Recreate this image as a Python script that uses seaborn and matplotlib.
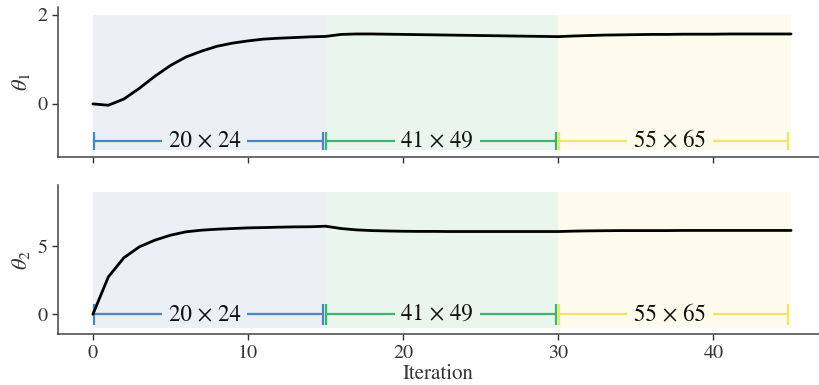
import numpy as np
import pandas as pd
import matplotlib
matplotlib.use("Agg")
import matplotlib.pyplot as plt
import seaborn as sns

# ---- data ----
iterations = list(range(46))
theta1 = [0.00, -0.03, 0.11, 0.35, 0.62, 0.86, 1.05, 1.18, 1.29, 1.36, 1.41, 1.45, 1.47, 1.485, 1.50, 1.51,
          1.555, 1.565, 1.565, 1.56, 1.555, 1.55, 1.545, 1.54, 1.535, 1.53, 1.525, 1.52, 1.515, 1.51, 1.505,
          1.52, 1.53, 1.54, 1.545, 1.55, 1.555, 1.555, 1.56, 1.56, 1.56, 1.565, 1.565, 1.565, 1.565, 1.565]
theta2 = [0.00, 2.75, 4.15, 4.95, 5.44, 5.80, 6.05, 6.17, 6.24, 6.29, 6.34, 6.36, 6.39, 6.41, 6.42, 6.46,
          6.29, 6.19, 6.14, 6.11, 6.09, 6.08, 6.08, 6.07, 6.07, 6.07, 6.07, 6.07, 6.07, 6.07, 6.07,
          6.10, 6.12, 6.13, 6.14, 6.14, 6.14, 6.14, 6.15, 6.15, 6.15, 6.15, 6.15, 6.15, 6.15, 6.15]
stage_bounds = [0, 15, 30, 45]
stage_labels = ["20 × 24", "41 × 49", "55 × 65"]
stage_colors = ["#4A86C2", "#3DB56E", "#F2E466"]
shade_colors = ["#EBF0F7", "#EAF5EE", "#FDFBEC"]
panel_labels = [r"$\theta_1$", r"$\theta_2$"]
yticks_list = [[0, 2], [0, 5]]

df = pd.DataFrame({"Iteration": iterations, "theta1": theta1, "theta2": theta2})

sns.set_theme(style="ticks")
plt.rcParams["font.family"] = ["STIXGeneral", "DejaVu Serif"]
plt.rcParams["mathtext.fontset"] = "stix"

fig = plt.figure(figsize=(8.19, 3.85), dpi=100)
ax1 = fig.add_axes([0.0708, 0.592, 0.9292, 0.390])
ax2 = fig.add_axes([0.0708, 0.132, 0.9292, 0.387], sharex=ax1)

configs = [
    (ax1, "theta1", (-1.19, 2.17), -1.03, 2.0, -0.83, 0.21),
    (ax2, "theta2", (-1.46, 9.47), -1.0, 9.0, 0.0, 0.78),
]
gap = 2.75

for i, (ax, col, ylim, shade_lo, shade_hi, br_y, br_h) in enumerate(configs):
    for s in range(3):
        a, b = stage_bounds[s], stage_bounds[s + 1]
        ax.fill_between([a, b], shade_lo, shade_hi, color=shade_colors[s], lw=0, zorder=0)
        x0, x1 = a + 0.05, b - 0.17
        xm = (a + b) / 2 - 0.3
        c = stage_colors[s]
        kw = dict(color=c, lw=1.6, zorder=2, solid_capstyle="butt")
        ax.plot([x0, xm - gap], [br_y, br_y], **kw)
        ax.plot([xm + gap, x1], [br_y, br_y], **kw)
        ax.plot([x0, x0], [br_y - br_h, br_y + br_h], **kw)
        ax.plot([x1, x1], [br_y - br_h, br_y + br_h], **kw)
        ax.text(xm, br_y, stage_labels[s], ha="center", va="center", fontsize=16.5,
                color="#111111", zorder=3)
    sns.lineplot(data=df, x="Iteration", y=col, ax=ax, color="black", lw=2, zorder=4)
    ax.set_ylim(*ylim)
    ax.set_xlim(-2.25, 46.8)
    ax.set_yticks(yticks_list[i])
    ax.set_ylabel(panel_labels[i], fontsize=16, color="#333333")
    ax.tick_params(axis="both", labelsize=14.5, colors="#333333", length=4, width=1)
    for sp in ["left", "bottom"]:
        ax.spines[sp].set_color("#444444")
        ax.spines[sp].set_linewidth(1.1)
    sns.despine(ax=ax)

ax1.set_xlabel("")
plt.setp(ax1.get_xticklabels(), visible=False)
ax2.set_xticks([0, 10, 20, 30, 40])
ax2.set_xlabel("Iteration", fontsize=15, color="#333333", labelpad=2)

fig.savefig("out.png", dpi=100)
